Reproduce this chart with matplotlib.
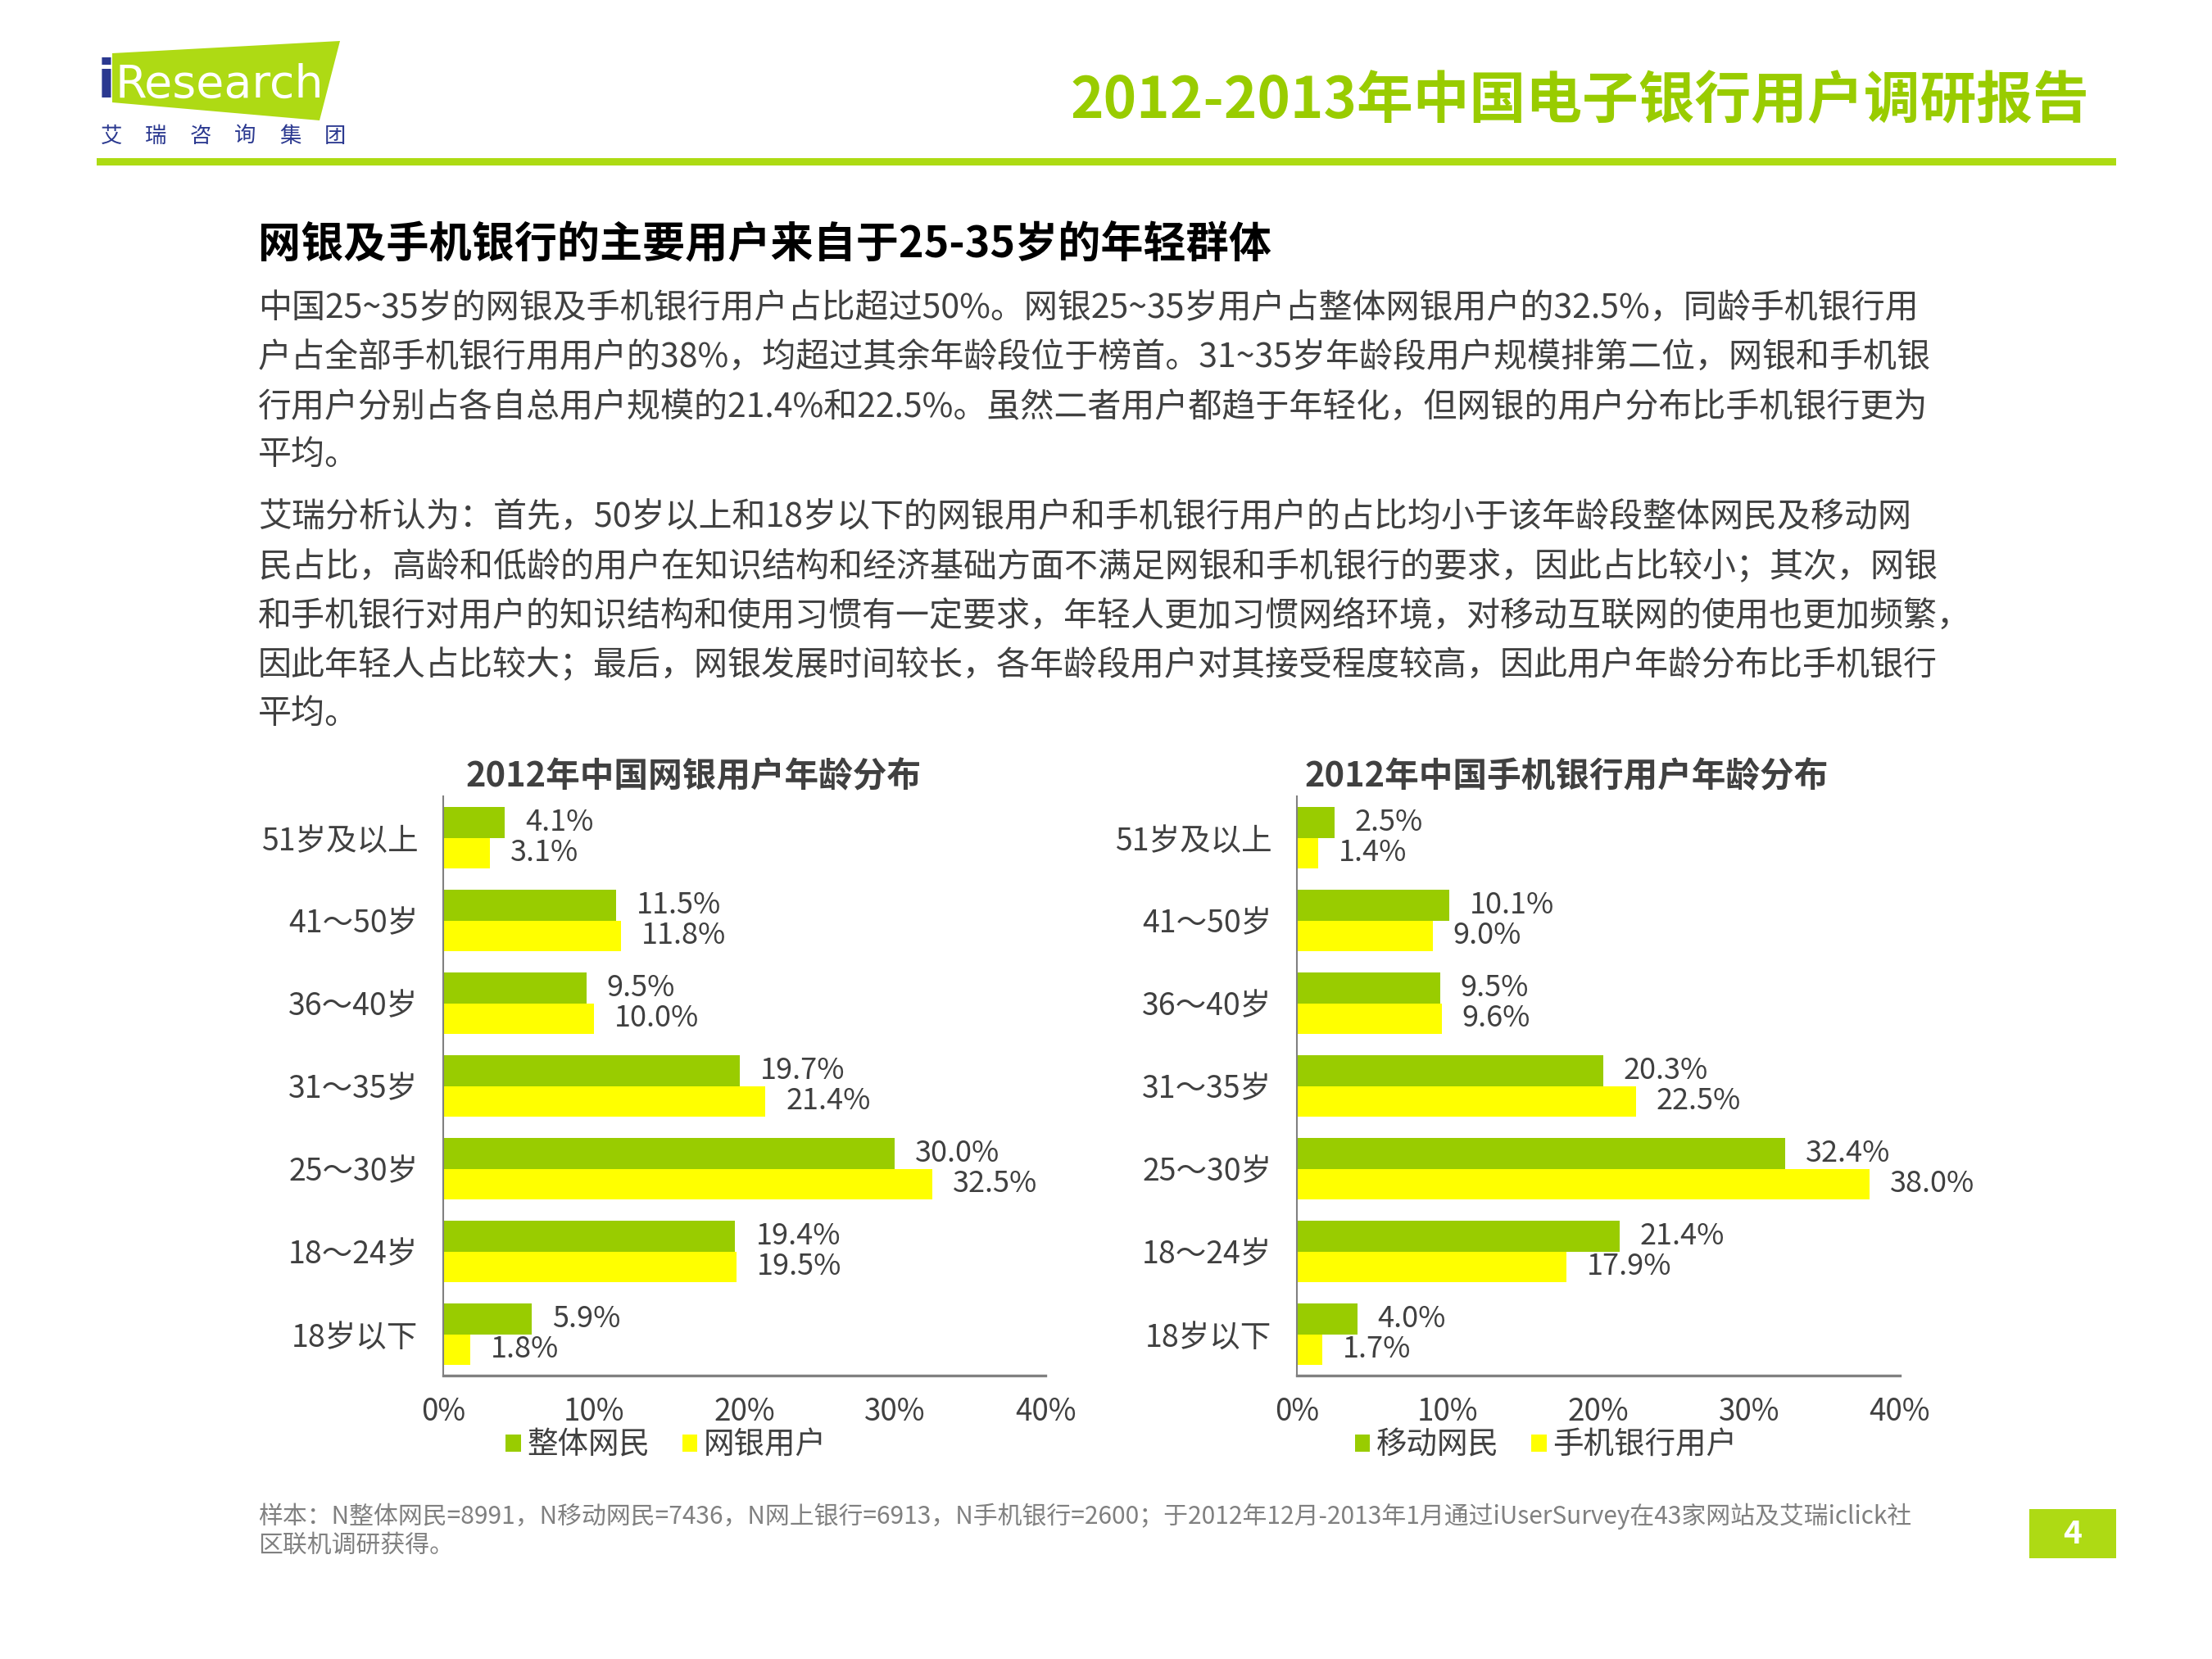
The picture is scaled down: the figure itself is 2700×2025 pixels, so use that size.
import matplotlib
matplotlib.use("Agg")
import matplotlib.pyplot as plt
import numpy as np
from matplotlib.patches import Polygon, Rectangle

plt.rcParams['font.family'] = ['Noto Sans CJK SC', 'DejaVu Sans']

# ---------------- data ----------------
categories = ["51岁及以上", "41～50岁", "36～40岁", "31～35岁", "25～30岁", "18～24岁", "18岁以下"]
overall_netizens = [4.1, 11.5, 9.5, 19.7, 30.0, 19.4, 5.9]
online_bank_users = [3.1, 11.8, 10.0, 21.4, 32.5, 19.5, 1.8]
mobile_netizens = [2.5, 10.1, 9.5, 20.3, 32.4, 21.4, 4.0]
mobile_bank_users = [1.4, 9.0, 9.6, 22.5, 38.0, 17.9, 1.7]
x_ticks = [0, 10, 20, 30, 40]
x_tick_labels = ["0%", "10%", "20%", "30%", "40%"]

header_title = "2012-2013年中国电子银行用户调研报告"
subtitle = "网银及手机银行的主要用户来自于25-35岁的年轻群体"
para1 = [
    "中国25~35岁的网银及手机银行用户占比超过50%。网银25~35岁用户占整体网银用户的32.5%，同龄手机银行用",
    "户占全部手机银行用用户的38%，均超过其余年龄段位于榜首。31~35岁年龄段用户规模排第二位，网银和手机银",
    "行用户分别占各自总用户规模的21.4%和22.5%。虽然二者用户都趋于年轻化，但网银的用户分布比手机银行更为",
    "平均。",
]
para2 = [
    "艾瑞分析认为：首先，50岁以上和18岁以下的网银用户和手机银行用户的占比均小于该年龄段整体网民及移动网",
    "民占比，高龄和低龄的用户在知识结构和经济基础方面不满足网银和手机银行的要求，因此占比较小；其次，网银",
    "和手机银行对用户的知识结构和使用习惯有一定要求，年轻人更加习惯网络环境，对移动互联网的使用也更加频繁，",
    "因此年轻人占比较大；最后，网银发展时间较长，各年龄段用户对其接受程度较高，因此用户年龄分布比手机银行",
    "平均。",
]
chart_titles = ["2012年中国网银用户年龄分布", "2012年中国手机银行用户年龄分布"]
legend_left = ["整体网民", "网银用户"]
legend_right = ["移动网民", "手机银行用户"]
footer = [
    "样本：N整体网民=8991，N移动网民=7436，N网上银行=6913，N手机银行=2600；于2012年12月-2013年1月通过iUserSurvey在43家网站及艾瑞iclick社",
    "区联机调研获得。",
]
page_no = "4"

# ---------------- style ----------------
GREEN = "#99CC00"
YELLOW = "#FFFF00"
LINE_GREEN = "#ADDB13"
TEXT = "#404040"
AXIS = "#808080"

W, H = 2700, 2025
fig = plt.figure(figsize=(27, 20.25), dpi=100)
fig.patch.set_facecolor("white")

def fx(x):
    return x / W

def fy(y):
    return 1 - y / H

# ---------------- header ----------------
logo = Polygon([(fx(137), fy(65)), (fx(415), fy(50)), (fx(390), fy(147)), (fx(137), fy(125))],
               closed=True, transform=fig.transFigure, facecolor="#AEDA14", edgecolor="none")
fig.patches.append(logo)
fig.text(fx(119), fy(119), "i", fontsize=46, color="#2B3990", fontweight="bold",
         family="DejaVu Sans", ha="left", va="baseline")
fig.text(fx(140), fy(119), "Research", fontsize=40, color="white",
         family="DejaVu Sans", ha="left", va="baseline")
for i, ch in enumerate("艾瑞咨询集团"):
    fig.text(fx(136 + i * 54.5), fy(166), ch, fontsize=19, color="#2B3990",
             ha="center", va="center")

fig.text(fx(2550), fy(124), header_title, fontsize=49.5, fontweight="bold", color=GREEN,
         ha="right", va="center")
fig.patches.append(Rectangle((fx(118), fy(202)), fx(2583 - 118), 9 / H,
                             transform=fig.transFigure, facecolor=LINE_GREEN, edgecolor="none"))

# ---------------- texts ----------------
fig.text(fx(315), fy(299), subtitle, fontsize=37.5, fontweight="bold", color="black",
         ha="left", va="center")
for y, line in zip([377, 437, 497, 555], para1):
    fig.text(fx(315), fy(y), line, fontsize=29.5, color=TEXT, ha="left", va="center")
for y, line in zip([632, 692, 752, 812, 871], para2):
    fig.text(fx(315), fy(y), line, fontsize=29.5, color=TEXT, ha="left", va="center")

# ---------------- charts ----------------
AX_TOP, AX_BOTTOM = 972, 1679

def draw_chart(left, right, title, title_cx, s1, s2, labels, legend_cx):
    ax = fig.add_axes([fx(left), fy(AX_BOTTOM), fx(right - left), (AX_BOTTOM - AX_TOP) / H])
    y = np.arange(len(categories))
    h = 0.375
    b1 = ax.barh(y - h / 2, s1, height=h, color=GREEN, label=labels[0])
    b2 = ax.barh(y + h / 2, s2, height=h, color=YELLOW, label=labels[1])
    for yy, v in zip(y - h / 2, s1):
        ax.annotate(f"{v:.1f}%", xy=(v, yy), xytext=(18, 0), textcoords="offset points",
                    va="center", ha="left", fontsize=26, color=TEXT)
    for yy, v in zip(y + h / 2, s2):
        ax.annotate(f"{v:.1f}%", xy=(v, yy), xytext=(18, 0), textcoords="offset points",
                    va="center", ha="left", fontsize=26, color=TEXT)
    ax.set_xlim(0, 40)
    ax.set_ylim(len(categories) - 0.5, -0.5)
    ax.set_yticks(y)
    ax.set_yticklabels(categories, fontsize=27, color=TEXT)
    ax.set_xticks(x_ticks)
    ax.set_xticklabels(x_tick_labels, fontsize=26.5, color=TEXT)
    ax.tick_params(axis="both", length=0)
    ax.tick_params(axis="y", pad=22)
    ax.tick_params(axis="x", pad=18)
    for s in ["top", "right"]:
        ax.spines[s].set_visible(False)
    ax.spines["left"].set_color(AXIS)
    ax.spines["left"].set_linewidth(1.5)
    ax.spines["bottom"].set_color(AXIS)
    ax.spines["bottom"].set_linewidth(2.4)
    ax.set_facecolor("none")
    fig.text(fx(title_cx), fy(948), title, fontsize=30, fontweight="bold", color=TEXT,
             ha="center", va="center")
    ax.legend(handles=[b1, b2], loc="center", ncol=2, frameon=False,
              bbox_to_anchor=(fx(legend_cx), fy(1764)), bbox_transform=fig.transFigure,
              fontsize=27, handlelength=0.5, handleheight=0.5, handletextpad=0.2,
              columnspacing=1.05, labelcolor=TEXT)
    return ax

draw_chart(541, 1276, chart_titles[0], 847, overall_netizens, online_bank_users, legend_left, 813)
draw_chart(1583, 2319, chart_titles[1], 1912, mobile_netizens, mobile_bank_users, legend_right, 1887)

# ---------------- footer ----------------
fig.text(fx(315), fy(1851), footer[0], fontsize=21.5, color="#808080", ha="left", va="center")
fig.text(fx(315), fy(1886), footer[1], fontsize=21.5, color="#808080", ha="left", va="center")
fig.patches.append(Rectangle((fx(2477), fy(1902)), fx(2583 - 2477), (1902 - 1842) / H,
                             transform=fig.transFigure, facecolor="#AEDA14", edgecolor="none"))
fig.text(fx(2530), fy(1872), page_no, fontsize=28, fontweight="bold", color="white",
         ha="center", va="center")

fig.savefig("out.png", dpi=100)
